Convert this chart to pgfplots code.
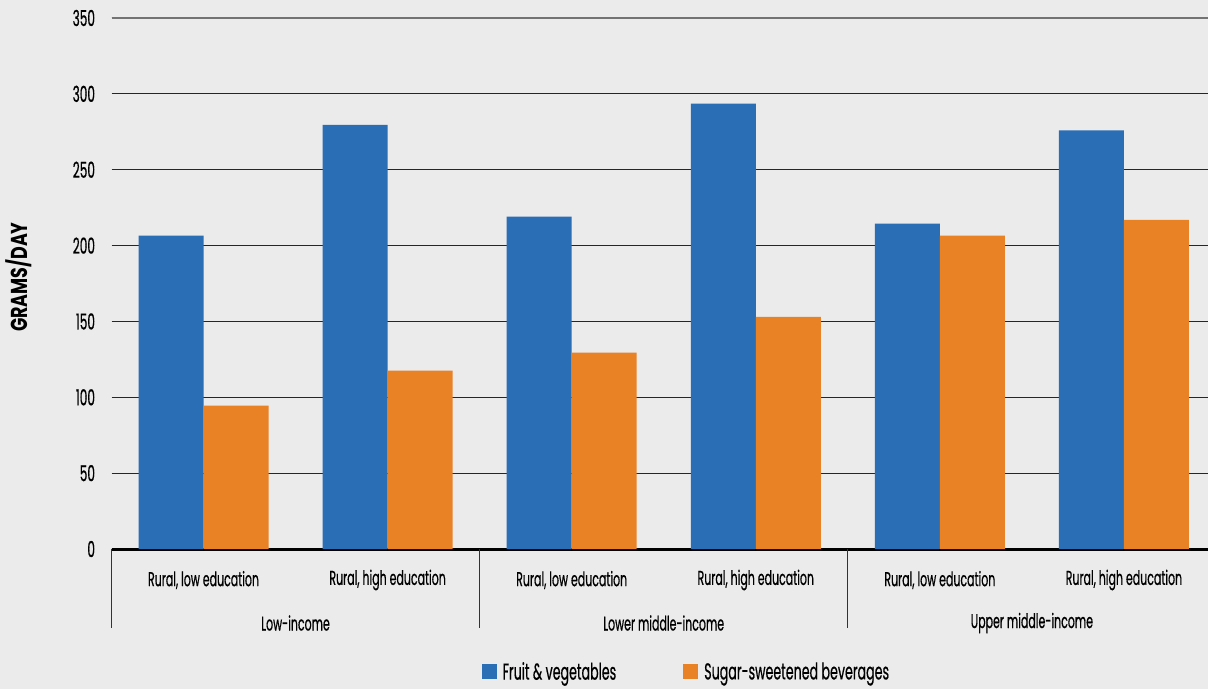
\documentclass[border=0pt]{standalone}
\usepackage{pgfplots}
\pgfplotsset{compat=1.18}
\usepackage{fontspec}
\setmainfont[FakeStretch=0.55, FakeBold=0.5]{Poppins}
\newfontfamily\labelfont[FakeStretch=0.76]{Poppins}
\definecolor{bg}{HTML}{EBEBEB}
\definecolor{fv}{HTML}{2A6EB6}
\definecolor{ssb}{HTML}{E98125}
\pgfplotstableread{
x fv ssb
0 206.5 94.5
1 279.5 117.5
2 219 129.5
3 293.5 153
4 214.5 206.5
5 276 217
}\datatable
\begin{document}
\begin{tikzpicture}
\useasboundingbox (0,0) rectangle (1208pt,689pt);
\fill[bg] (0,0) rectangle (1208pt,689pt);
\begin{axis}[
 at={(111.5pt,140pt)}, anchor=south west,
 scale only axis, width=1104.5pt, height=531pt,
 xmin=-0.5, xmax=5.5, ymin=0, ymax=350,
 ybar=0pt, bar width=0.353,
 axis x line*=bottom, axis y line*=left,
 y axis line style={draw=none},
 x axis line style={line width=3pt, black, -},
 ytick={0,50,...,350},
 xtick={0,...,5},
 xticklabels={{Rural, low education},{Rural, high education},{Rural, low education},{Rural, high education},{Rural, low education},{Rural, high education}},
 major tick length=0pt,
 ymajorgrids, grid style={line width=1.1pt, black!85},
 /pgf/number format/assume math mode=true,
 tick label style={font=\fontsize{20}{23}\selectfont, text=black},
 yticklabel style={anchor=east, xshift=-13pt, font=\fontsize{22}{24}\selectfont},
 xticklabel style={anchor=center, yshift=-31pt},
 every axis y label/.style={at={(axis description cs:-0.0837,0.512)}, rotate=90, anchor=center},
 ylabel={GRAMS/DAY},
 ylabel style={font=\labelfont\bfseries\fontsize{23}{25}\selectfont},
 clip=false,
 legend columns=2,
 legend style={at={(0.5205,-0.231)}, anchor=center, draw=none, fill=none,
   font=\fontsize{23}{25}\selectfont,
   /tikz/every odd column/.append style={column sep=4pt},
   /tikz/every even column/.append style={column sep=65pt}},
 legend image code/.code={\fill[#1] (0pt,-7.5pt) rectangle (15pt,7.5pt);},
]
\draw[line width=1.1pt, black!55] (axis cs:-0.5,350) -- (axis cs:5.5,350);
\addplot[fill=fv, draw=none] table[x=x, y=fv] {\datatable};
\addplot[fill=ssb, draw=none] table[x=x, y=ssb] {\datatable};
\legend{Fruit \& vegetables, Sugar-sweetened beverages}
\draw[line width=1.1pt, black!80] (axis cs:-0.5,0) -- ++(0pt,-79pt);
\draw[line width=1.1pt, black!80] (axis cs:1.5,0) -- ++(0pt,-79pt);
\draw[line width=1.1pt, black!80] (axis cs:3.5,0) -- ++(0pt,-79pt);
\draw[line width=1.1pt, black!80] (axis cs:5.5,0) -- ++(0pt,-79pt);
\node[font=\fontsize{20}{23}\selectfont] at (axis cs:0.5,0) [yshift=-74pt] {Low-income};
\node[font=\fontsize{20}{23}\selectfont] at (axis cs:2.5,0) [yshift=-74pt] {Lower middle-income};
\node[font=\fontsize{20}{23}\selectfont] at (axis cs:4.5,0) [yshift=-74pt] {Upper middle-income};
\end{axis}
\end{tikzpicture}
\end{document}
